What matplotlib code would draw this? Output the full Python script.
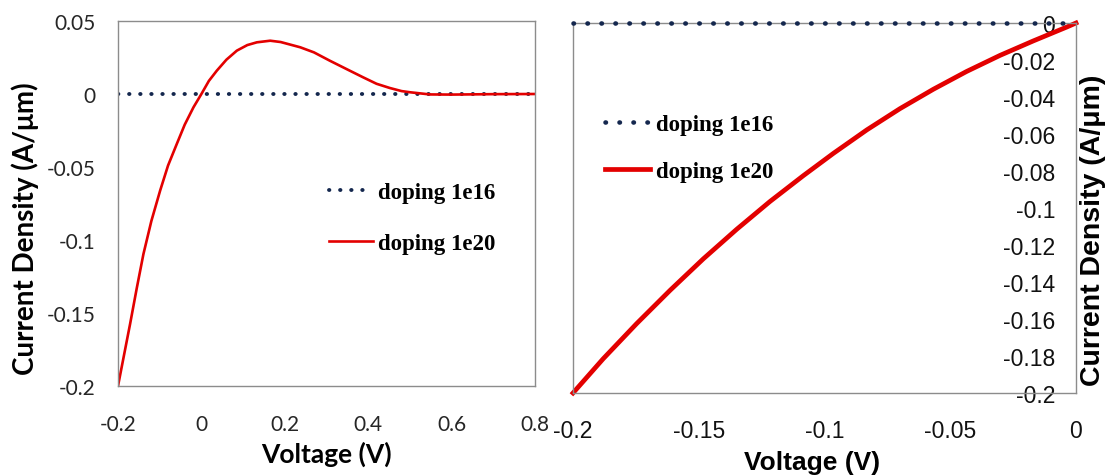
import matplotlib
matplotlib.use("Agg")
import matplotlib.pyplot as plt

# left panel: full sweep -0.2 .. 0.8 V
v_left = [-0.2, -0.185, -0.171, -0.155, -0.139, -0.12, -0.099, -0.08, -0.059, -0.04,
          -0.019, 0.0, 0.018, 0.037, 0.06, 0.085, 0.11, 0.133, 0.165, 0.19, 0.237,
          0.27, 0.308, 0.35, 0.388, 0.42, 0.452, 0.48, 0.5, 0.548, 0.6, 0.7, 0.8]
j_1e20_left = [-0.2, -0.178, -0.1575, -0.133, -0.1096, -0.087, -0.0662, -0.049, -0.0342, -0.021,
               -0.0091, 0.0, 0.009, 0.016, 0.0235, 0.0297, 0.0335, 0.0354, 0.0365, 0.0356, 0.032,
               0.0285, 0.0228, 0.0168, 0.0114, 0.007, 0.0041, 0.002, 0.0012, -0.0003, -0.0004, -0.0001, 0.0]
j_1e16_left = [0.0] * len(v_left)

# right panel: zoom on -0.2 .. 0 V
v_right = [-0.2, -0.188, -0.1747, -0.1614, -0.1482, -0.1349, -0.1217, -0.1084, -0.0965,
           -0.0832, -0.07, -0.0567, -0.0435, -0.0302, -0.017, -0.0037, 0.0]
j_1e20_right = [-0.2, -0.1815, -0.1625, -0.1445, -0.1275, -0.1115, -0.0965, -0.0825, -0.0705,
                -0.0578, -0.0463, -0.0358, -0.0262, -0.0175, -0.0097, -0.0022, 0.0]
j_1e16_right = [0.0] * len(v_right)

left_xticks = [-0.2, 0, 0.2, 0.4, 0.6, 0.8]
left_yticks = [0.05, 0, -0.05, -0.1, -0.15, -0.2]
right_xticks = [-0.2, -0.15, -0.1, -0.05, 0]
right_yticks = [0, -0.02, -0.04, -0.06, -0.08, -0.1, -0.12, -0.14, -0.16, -0.18, -0.2]

RED = "#E30000"
NAVY = "#14274E"
SPINE = "#8C8C8C"
W, H = 1112, 477


def fmt(v):
    s = ("%g" % v)
    return "0" if s in ("0", "-0") else s


fig = plt.figure(figsize=(W / 100, H / 100), dpi=100)

# ---- left panel
ax = fig.add_axes([118 / W, 1 - 387 / H, (535 - 118) / W, (387 - 22) / H])
ax.plot(v_left, j_1e16_left, color=NAVY, lw=2.8, ls=(0, (0.1, 2.75)),
        dash_capstyle="round", label="doping 1e16")
ax.plot(v_left, j_1e20_left, color=RED, lw=1.9, label="doping 1e20")
ax.set_xlim(-0.2, 0.8)
ax.set_ylim(-0.2, 0.05)
ax.set_xticks(left_xticks)
ax.set_xticklabels([fmt(t) for t in left_xticks])
ax.set_yticks(left_yticks)
ax.set_yticklabels([fmt(t) for t in left_yticks])
ax.tick_params(length=0, labelsize=15, colors="#262626")
ax.tick_params(axis="x", pad=20)
ax.tick_params(axis="y", pad=16)
for lab in ax.get_xticklabels() + ax.get_yticklabels():
    lab.set_family("Lato")
for sp in ax.spines.values():
    sp.set_color(SPINE)
    sp.set_linewidth(1.0)
ax.set_ylabel("Current Density (A/\u03bcm)", family="Lato", weight="bold",
              fontsize=20, va="center")
ax.yaxis.set_label_coords(-0.223, 0.433)
ax.set_xlabel("Voltage (V)", family="Lato", weight="bold", fontsize=19, va="center")
ax.xaxis.set_label_coords(0.5, -0.185)
ax.legend(loc="center left", bbox_to_anchor=(329 / W, 1 - 219 / H),
          bbox_transform=fig.transFigure, frameon=False, borderpad=0, borderaxespad=0,
          handlelength=1.9, handletextpad=0.26, labelspacing=1.32,
          prop={"family": "Liberation Serif", "weight": "bold", "size": 16.5})

# ---- right panel
ax2 = fig.add_axes([573 / W, 1 - 394 / H, (1076 - 573) / W, (394 - 24) / H])
ax2.plot(v_right, j_1e16_right, color=NAVY, lw=3.3, ls=(0, (0.1, 2.95)),
         dash_capstyle="round", clip_on=False, label="doping 1e16", zorder=3)
ax2.plot(v_right, j_1e20_right, color=RED, lw=3.4, clip_on=False, label="doping 1e20")
ax2.set_xlim(-0.2, 0)
ax2.set_ylim(-0.2, 0)
ax2.set_xticks(right_xticks)
ax2.set_xticklabels([fmt(t) for t in right_xticks])
ax2.set_yticks(right_yticks)
ax2.set_yticklabels([fmt(t) for t in right_yticks])
ax2.yaxis.tick_right()
ax2.tick_params(length=0, labelsize=16.5, colors="#111111")
ax2.tick_params(axis="x", pad=19)
ax2.tick_params(axis="y", pad=-15)
for lab in ax2.get_yticklabels():
    lab.set_horizontalalignment("right")
for lab in ax2.get_xticklabels() + ax2.get_yticklabels():
    lab.set_family("Liberation Sans")
for sp in ax2.spines.values():
    sp.set_color(SPINE)
    sp.set_linewidth(1.0)
ax2.yaxis.set_label_position("right")
ax2.set_ylabel("Current Density (A/\u03bcm)", family="Liberation Sans", weight="bold",
               fontsize=20.5, va="center", rotation=90)
ax2.yaxis.set_label_coords(1.034, 0.443)
ax2.set_xlabel("Voltage (V)", family="Liberation Sans", weight="bold", fontsize=19, va="center")
ax2.xaxis.set_label_coords(0.475, -0.186)
ax2.legend(loc="center left", bbox_to_anchor=(605 / W, 1 - 149 / H),
           bbox_transform=fig.transFigure, frameon=False, borderpad=0, borderaxespad=0,
           handlelength=1.95, handletextpad=0.26, labelspacing=1.15,
           prop={"family": "Liberation Serif", "weight": "bold", "size": 16.5})

fig.savefig("out.png", dpi=100)
